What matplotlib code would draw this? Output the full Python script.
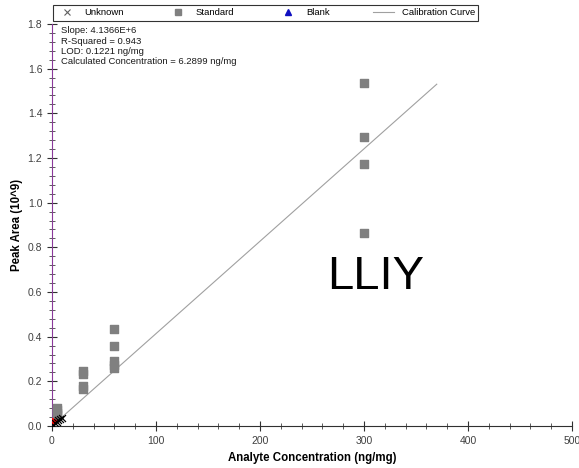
import numpy as np
import matplotlib
matplotlib.use('Agg')
import matplotlib.pyplot as plt
from matplotlib.ticker import MultipleLocator, FormatStrFormatter

plt.rcParams['font.family'] = ['Liberation Sans', 'DejaVu Sans']

# standards (ng/mg, peak area x10^9)
std_x = [5, 5, 5, 5, 30, 30, 30, 30, 60, 60, 60, 60, 60, 300, 300, 300, 300]
std_y = [0.08, 0.07, 0.06, 0.05, 0.245, 0.235, 0.18, 0.165,
         0.435, 0.36, 0.29, 0.275, 0.26, 1.535, 1.295, 1.175, 0.865]
unk_x = [1, 3, 5, 6, 8, 10]
unk_y = [0.005, 0.012, 0.02, 0.025, 0.03, 0.036]
blank_x = [1]
blank_y = [0.022]
slope = 4.1366e6 / 1e9
curve_x = [0, 370]
stats = ['Slope: 4.1366E+6', 'R-Squared = 0.943', 'LOD: 0.1221 ng/mg',
         'Calculated Concentration = 6.2899 ng/mg']

fig = plt.figure(figsize=(5.79, 4.68), dpi=100)
ax = fig.add_axes([0.0898, 0.0897, 0.898, 0.859])

cx = np.array(curve_x)
ax.plot(cx, slope * cx, color='#a0a0a0', lw=0.8, label='Calibration Curve', zorder=2)
ax.scatter(std_x, std_y, marker='s', s=28, color='#808080', label='Standard', zorder=3)
ax.scatter(unk_x, unk_y, marker='x', s=25, color='black', lw=0.9, label='Unknown', zorder=4)
ax.scatter(blank_x, blank_y, marker='>', s=45, color='red', zorder=3)

ax.text(311, 0.667, 'LLIY', fontsize=34, ha='center', va='center', color='black')
ax.text(9, 1.79, '\n'.join(stats), fontsize=6.8, va='top', ha='left',
        color='#1a1a1a', linespacing=1.2)

ax.set_xlim(0, 500)
ax.set_ylim(0, 1.8)
ax.xaxis.set_major_locator(MultipleLocator(100))
ax.xaxis.set_minor_locator(MultipleLocator(20))
ax.yaxis.set_major_locator(MultipleLocator(0.2))
ax.yaxis.set_minor_locator(MultipleLocator(0.04))
ax.yaxis.set_major_formatter(FormatStrFormatter('%.1f'))
ax.tick_params(which='major', direction='inout', length=7, width=0.8,
               labelsize=7.5, labelcolor='#404040', color='#303030')
ax.tick_params(which='minor', direction='inout', length=4, width=0.6, color='#404040')
for s in ['top', 'right']:
    ax.spines[s].set_visible(False)
ax.spines['left'].set_color('#8a3a9a')
ax.spines['bottom'].set_color('#303030')

ax.set_xlabel('Analyte Concentration (ng/mg)', fontsize=8.3, fontweight='bold', labelpad=4.5)
ax.set_ylabel('Peak Area (10^9)', fontsize=8.3, fontweight='bold', labelpad=3)

h, l = ax.get_legend_handles_labels()
order = ['Unknown', 'Standard', 'Blank', 'Calibration Curve']
hh = []
for name in order:
    if name == 'Blank':
        hnd = plt.Line2D([], [], marker='^', color='#1010c0', ls='none', markersize=4)
    elif name == 'Unknown':
        hnd = plt.Line2D([], [], marker='x', color='#606060', ls='none', markersize=5, mew=0.8)
    elif name == 'Standard':
        hnd = plt.Line2D([], [], marker='s', color='#808080', ls='none', markersize=4.5)
    else:
        hnd = h[l.index(name)]
    hh.append(hnd)
leg = fig.legend(hh, order, loc='upper left', bbox_to_anchor=(53/579, 1 - 5/468),
                 borderaxespad=0, ncol=4, fontsize=6.8, frameon=True, fancybox=False,
                 edgecolor='black', borderpad=0.35, columnspacing=4.6,
                 handletextpad=0.8, handlelength=2.2)
leg.get_frame().set_linewidth(0.8)

fig.savefig('out.png', dpi=100)
